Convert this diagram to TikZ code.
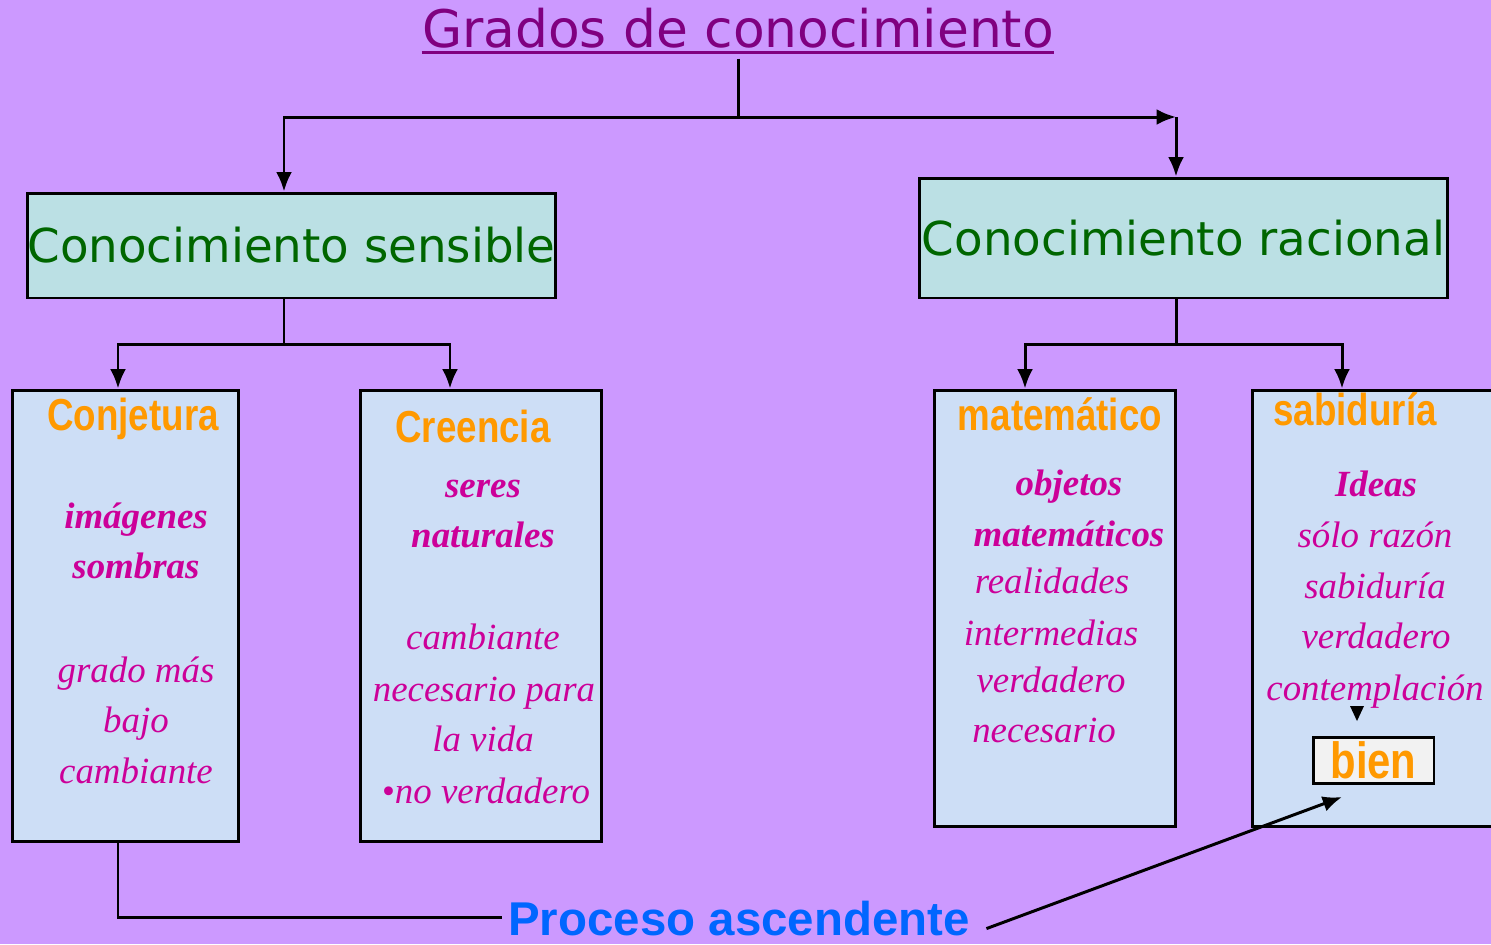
\documentclass[tikz,border=0pt]{standalone}
\usepackage{fontspec}
\setmainfont{Liberation Serif}
\newfontfamily\gradosfont{DejaVu Sans}
\newfontfamily\narrowfont[FakeStretch=0.82]{Liberation Sans}
\newfontfamily\arialfont{Liberation Sans}
\usetikzlibrary{positioning, arrows.meta}
\definecolor{fondo}{RGB}{204,153,255}
\definecolor{purpura}{RGB}{128,0,128}
\definecolor{verde}{RGB}{0,102,0}
\definecolor{cian}{RGB}{187,224,228}
\definecolor{textura}{RGB}{205,222,246}
\definecolor{naranja}{RGB}{255,153,0}
\definecolor{magenta}{RGB}{204,0,153}
\definecolor{azul}{RGB}{0,102,255}
\tikzset{
  linea/.style={line width=1.7pt},
  conector/.style={linea, -{Latex[length=11pt,width=9pt]}}, % filled heads like the slide
  titulo/.style={text=purpura, font=\gradosfont\fontsize{29.5pt}{32pt}\selectfont, inner sep=0pt, anchor=base},
  categoria/.style={draw, line width=1.7pt, fill=cian, text=verde, inner sep=0pt,
    font=\gradosfont\fontsize{26.6pt}{30pt}\selectfont, minimum width=10.58cm},
  columna/.style={draw, line width=1.7pt, fill=textura, inner sep=0pt}, % the four tall boxes
  encabezado/.style={text=naranja, font=\narrowfont\bfseries\fontsize{25.5pt}{28pt}\selectfont, anchor=base},
  texto/.style={text=magenta, font=\itshape\fontsize{21pt}{25pt}\selectfont, anchor=base},
  textobf/.style={texto, font=\bfseries\itshape\fontsize{21pt}{25pt}\selectfont},
  bienbox/.style={draw, line width=1.7pt, fill=gray!10, text=naranja, inner sep=0pt,
    font=\narrowfont\bfseries\fontsize{29pt}{32pt}\selectfont, minimum width=2.42cm, minimum height=0.92cm},
  proceso/.style={text=azul, font=\arialfont\bfseries\fontsize{27pt}{30pt}\selectfont, anchor=base}
}

\begin{document}
\begin{tikzpicture}[x=0.02cm, y=-0.02cm]

    \fill[fondo] (0,0) rectangle (1491,944);
    \useasboundingbox (0,0) rectangle (1491,944);

    % title
    \node[titulo] (titulo) at (738,47) {Grados de conocimiento};
    \draw[purpura, line width=1.5pt] ([yshift=-3pt]titulo.base west) -- ([yshift=-3pt]titulo.base east);

    % two kinds of knowledge
    \node[categoria, minimum height=2.1cm] (sensible) at (291.5,245.5) {Conocimiento sensible};
    \node[categoria, minimum height=2.4cm] (racional) at (1183.5,238) {Conocimiento racional};

    % the four columns
    \node[columna, minimum width=4.54cm, minimum height=9.04cm] (conj) at (125.5,616) {};
    \node[columna, minimum width=4.84cm, minimum height=9.04cm] (cree) at (481,616) {};
    \node[columna, minimum width=4.84cm, minimum height=8.74cm] (mate) at (1055,608.5) {};
    \node[columna, minimum width=4.96cm, minimum height=8.74cm] (sabi) at (1376,608.5) {};

    \node[encabezado] (conj_titulo) at (133,430) {Conjetura};
    \node[textobf] (conj_a) at (136,528) {imágenes};
    \node[textobf] (conj_b) at (136,578) {sombras};
    \node[texto] (conj_c) at (136,682) {grado más};
    \node[texto] (conj_d) at (136,732) {bajo};
    \node[texto] (conj_e) at (136,783) {cambiante};

    \node[encabezado] (cree_titulo) at (473,442) {Creencia};
    \node[textobf] (cree_a) at (483,497) {seres};
    \node[textobf] (cree_b) at (483,547) {naturales};
    \node[texto] (cree_c) at (483,649) {cambiante};
    \node[texto] (cree_d) at (484,701) {necesario para};
    \node[texto] (cree_e) at (483,751) {la vida};
    \node[texto] (cree_f) at (486,803) {{\upshape•}no verdadero};

    \node[encabezado] (mate_titulo) at (1060,430) {matemático};
    \node[textobf] (mate_a) at (1069,495) {objetos};
    \node[textobf] (mate_b) at (1069,546) {matemáticos};
    \node[texto] (mate_c) at (1052,593) {realidades};
    \node[texto] (mate_d) at (1051,645) {intermedias};
    \node[texto] (mate_e) at (1051,692) {verdadero};
    \node[texto] (mate_f) at (1044,742) {necesario};

    \node[encabezado] (sabi_titulo) at (1355,425) {sabiduría};
    \node[textobf] (sabi_a) at (1376,496) {Ideas};
    \node[texto] (sabi_b) at (1375,547) {sólo razón};
    \node[texto] (sabi_c) at (1375,598) {sabiduría};
    \node[texto] (sabi_d) at (1376,648) {verdadero};
    \node[texto] (sabi_e) at (1375,700) {contemplación};
    \fill (1350,706) -- (1364,706) -- (1357,721) -- cycle;
    \node[bienbox] (bien) at (1373.5,760) {bien};

    \node[proceso] (proceso) at (739,935) {Proceso ascendente};

    % connectors
    \coordinate (bus_top) at (738,117);
    \coordinate (bus_izq) at (284,117);
    \coordinate (bus_der) at (1176,117);
    \coordinate (sens_bus) at (284,344);
    \coordinate (sens_izq) at (118,344);
    \coordinate (sens_der) at (450,344);
    \coordinate (rac_bus) at (1176,344);
    \coordinate (rac_izq) at (1025,344);
    \coordinate (rac_der) at (1342,344);
    \coordinate (proc_codo) at (118,917);
    \coordinate (bien_punta) at (1342,797);

    \draw[linea] ([yshift=-6pt]titulo.south) -- (bus_top);
    \draw[conector] (bus_top) -- (bus_izq) -- (bus_izq |- sensible.north);
    \draw[conector] (bus_top) -- (bus_der);
    \draw[conector] (bus_der) -- (bus_der |- racional.north);

    \draw[linea] (sens_bus |- sensible.south) -- (sens_bus);
    \draw[conector] (sens_bus) -- (sens_izq) -- (sens_izq |- conj.north);
    \draw[conector] (sens_bus) -- (sens_der) -- (sens_der |- cree.north);

    \draw[linea] (rac_bus |- racional.south) -- (rac_bus);
    \draw[conector] (rac_bus) -- (rac_izq) -- (rac_izq |- mate.north);
    \draw[conector] (rac_bus) -- (rac_der) -- (rac_der |- sabi.north);

    \draw[linea] (proc_codo |- conj.south) -- (proc_codo) -- (proc_codo -| proceso.west);
    \draw[conector] ([shift={(6pt,-6pt)}]proceso.east) -- (bien_punta);

\end{tikzpicture}
\end{document}
